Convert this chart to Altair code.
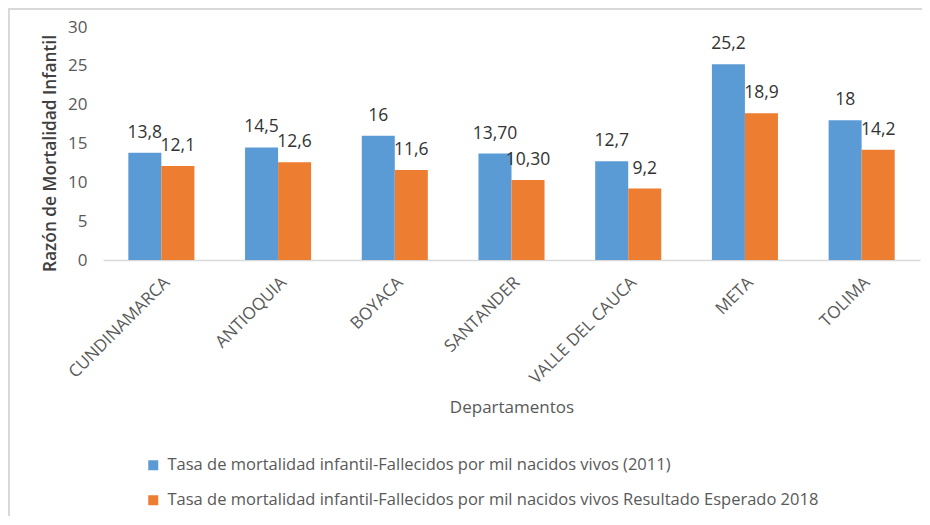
import altair as alt
import pandas as pd

departamentos = ["CUNDINAMARCA", "ANTIOQUIA", "BOYACA", "SANTANDER",
                 "VALLE DEL CAUCA", "META", "TOLIMA"]
tasa_2011 = [13.8, 14.5, 16, 13.7, 12.7, 25.2, 18]
tasa_2018 = [12.1, 12.6, 11.6, 10.3, 9.2, 18.9, 14.2]
etiquetas_2011 = ["13,8", "14,5", "16", "13,70", "12,7", "25,2", "18"]
etiquetas_2018 = ["12,1", "12,6", "11,6", "10,30", "9,2", "18,9", "14,2"]
serie_2011 = "Tasa de mortalidad infantil-Fallecidos por mil nacidos vivos (2011)"
serie_2018 = "Tasa de mortalidad infantil-Fallecidos por mil nacidos vivos Resultado Esperado 2018"
series = [serie_2011, serie_2018]
colores = ["#5B9BD5", "#ED7D31"]
ticks_y = [0, 5, 10, 15, 20, 25, 30]

rows = []
for d, v, l in zip(departamentos, tasa_2011, etiquetas_2011):
    rows.append({"dep": d, "serie": serie_2011, "valor": v, "etq": l})
for d, v, l in zip(departamentos, tasa_2018, etiquetas_2018):
    rows.append({"dep": d, "serie": serie_2018, "valor": v, "etq": l})
df = pd.DataFrame(rows)

FONT = "Open Sans"

x_enc = alt.X("dep:N", sort=departamentos,
              scale=alt.Scale(paddingInner=0.434, paddingOuter=0.217),
              axis=alt.Axis(title="Departamentos", labelAngle=-45,
                            labelFont=FONT, labelFontSize=17, labelColor="#595959",
                            labelPadding=14, ticks=False, tickSize=0,
                            domainColor="#d9d9d9", domainWidth=1.5,
                            titleFont=FONT, titleFontSize=17, titleFontWeight="normal",
                            titleColor="#595959", titleY=152, titleBaseline="alphabetic"))
y_enc = alt.Y("valor:Q", scale=alt.Scale(domain=[0, 30]),
              axis=alt.Axis(title="Razón de Mortalidad Infantil", values=ticks_y,
                            tickCount=7,
                            grid=False, domain=False, ticks=False, tickSize=0,
                            labelOverlap=False,
                            labelFont=FONT, labelFontSize=17, labelColor="#595959",
                            labelPadding=16,
                            titleFont=FONT, titleFontSize=17.3, titleFontWeight=600,
                            titleColor="#404040", titleX=-53, titleY=126,
                            titleBaseline="middle"))
xoff = alt.XOffset("serie:N", sort=series, scale=alt.Scale(paddingInner=0))

base = alt.Chart(df)

bars = base.mark_bar().encode(
    x=x_enc, y=y_enc, xOffset=xoff,
    color=alt.Color("serie:N", sort=series,
                    scale=alt.Scale(domain=series, range=colores),
                    legend=alt.Legend(title=None, orient="none", legendX=42, legendY=430,
                                      direction="vertical", symbolType="square",
                                      symbolSize=100, symbolStrokeWidth=0,
                                      labelFont=FONT, labelFontSize=16.5,
                                      labelColor="#595959", labelOffset=6,
                                      labelLimit=1000, rowPadding=18, padding=0)),
)

texts = base.mark_text(font=FONT, fontSize=17.5, color="#333333",
                       baseline="alphabetic", dy=-15).encode(
    x=x_enc, y=y_enc, xOffset=xoff, text="etq:N"
)

frame_df = pd.DataFrame({"k": [0]})
top_line = alt.Chart(frame_df).mark_rule(color="#d9d9d9", strokeWidth=2).encode(
    x=alt.value(-95), x2=alt.value(819), y=alt.value(-18)
)
left_line = alt.Chart(frame_df).mark_rule(color="#d9d9d9", strokeWidth=2).encode(
    x=alt.value(-94), y=alt.value(-19), y2=alt.value(489)
)

chart = alt.layer(bars, texts, top_line, left_line).properties(
    width=817, height=233,
    autosize=alt.AutoSizeParams(type="none"),
    padding={"left": 95, "top": 19, "right": 2, "bottom": 256},
).configure_view(stroke=None)

chart.save("out.html", embed_options={"renderer": "svg", "actions": False})
